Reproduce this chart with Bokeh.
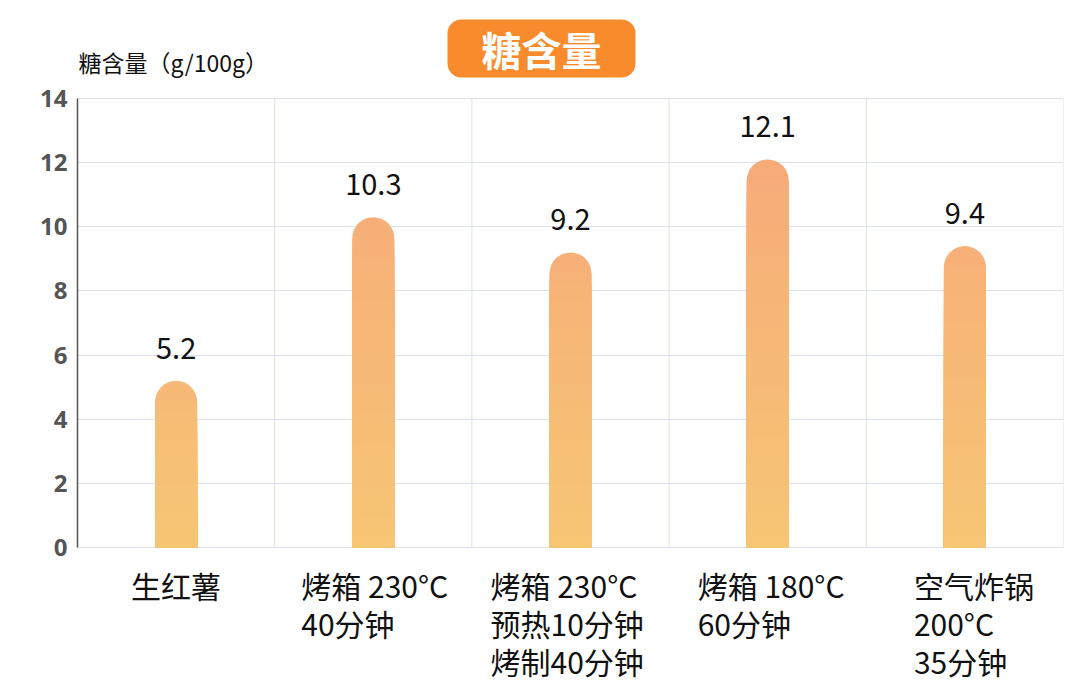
from bokeh.plotting import figure
from bokeh.models import ColumnDataSource, Range1d, FixedTicker, LabelSet, Label
from bokeh.core.properties import value
from bokeh.embed import file_html
from bokeh.resources import INLINE

# data
categories = ["生红薯", "烤箱 230°C\n40分钟", "烤箱 230°C\n预热10分钟\n烤制40分钟",
              "烤箱 180°C\n60分钟", "空气炸锅\n200°C\n35分钟"]
sugar = [5.2, 10.3, 9.2, 12.1, 9.4]
value_text = ["5.2", "10.3", "9.2", "12.1", "9.4"]
y_ticks = [0, 2, 4, 6, 8, 10, 12, 14]

# half the width of each label block, so the block sits centred under its bar
label_shift = [-45, -72, -80, -70, -51]

bottom_rgb = (246, 198, 116)
top_rgb = (247, 170, 121)
grid_color = "#dde0ee"


def grad(y):
    t = max(0.0, min(1.0, y / 12.5))
    c = [round(a + (b - a) * t) for a, b in zip(bottom_rgb, top_rgb)]
    return "#%02x%02x%02x" % tuple(c)


W, H = 1080, 700
ymax = max(y_ticks)
ncat = len(categories)
# the plot area spans the whole height; the chart itself sits between
# 98px from the top and 153px from the bottom, the rest holds the texts
ppu = (H - 98 - 153) / ymax
p = figure(width=W, height=H, x_range=Range1d(0, ncat),
           y_range=Range1d(-153 / ppu, ymax + 98 / ppu),
           output_backend="svg", toolbar_location=None,
           min_border_left=77, min_border_right=17, min_border_top=0, min_border_bottom=0)
p.outline_line_color = None
p.background_fill_color = "white"

xs = [i + 0.5 for i in range(ncat)]
bar_w = 0.213
cap = 21 / ppu  # rounded top in data units

# column separators
seps = list(range(1, ncat + 1))
p.segment(x0=seps, y0=[0] * ncat, x1=seps, y1=[ymax] * ncat, line_color=grid_color, line_width=1)

# full bars with rounded tops
full = ColumnDataSource(dict(x=xs, top=sugar, color=[grad(v) for v in sugar]))
p.vbar(x="x", top="top", bottom=0, width=bar_w, source=full, fill_color="color",
       line_color=None, border_radius=(21, 21, 0, 0))

# gradient body
sx, st, sc = [], [], []
n = 30
for x, v in zip(xs, sugar):
    h = v - cap
    for k in range(n - 1, -1, -1):
        sx.append(x)
        st.append(h * (k + 1) / n)
        sc.append(grad(h * (k + 0.5) / n))
p.vbar(x=sx, top=st, bottom=0, width=bar_w, fill_color=sc, line_color=None)

# value labels
vals = ColumnDataSource(dict(x=xs, y=sugar, t=value_text))
p.add_layout(LabelSet(x="x", y="y", text="t", source=vals, y_offset=22,
                      text_align="center", text_baseline="alphabetic",
                      text_font=value("Noto Sans CJK SC"), text_font_size="29px",
                      text_color="#111111"))

# category labels under the bars
cats = ColumnDataSource(dict(x=xs, y=[0] * ncat, t=categories, dx=label_shift))
p.add_layout(LabelSet(x="x", y="y", text="t", source=cats, x_offset="dx", y_offset=-15,
                      text_align="left", text_baseline="top", text_line_height=0.865,
                      text_font=value("Noto Sans CJK SC"), text_font_size="30px",
                      text_color="#111111"))

# axes and grid
p.xaxis.visible = False
p.xgrid.grid_line_color = None
p.ygrid.grid_line_color = grid_color
p.yaxis.ticker = FixedTicker(ticks=y_ticks)
p.yaxis.bounds = (0, ymax)
p.yaxis.major_tick_line_color = None
p.yaxis.minor_tick_line_color = None
p.yaxis.axis_line_color = "#555555"
p.yaxis.axis_line_width = 1.5
p.yaxis.major_label_text_font = "Open Sans"
p.yaxis.major_label_text_font_style = "bold"
p.yaxis.major_label_text_font_size = "24px"
p.yaxis.major_label_text_color = "#555555"
p.yaxis.major_label_standoff = 4

# unit label (screen units are measured from the frame's bottom-left corner)
p.add_layout(Label(x=1, y=H - 61, x_units="screen", y_units="screen", text="糖含量（g/100g）",
                   text_baseline="middle", text_font="Noto Sans CJK SC", text_font_size="23px",
                   text_color="#111111"))

# title badge
p.add_layout(Label(x=464, y=H - 48, x_units="screen", y_units="screen", text="糖含量",
                   text_align="center", text_baseline="middle", text_font="Noto Sans CJK SC",
                   text_font_style="bold", text_font_size="40px", text_color="white",
                   background_fill_color="#f98b2d", border_radius=14, padding=(34, 0)))

open("out.html", "w").write(file_html(p, INLINE))
